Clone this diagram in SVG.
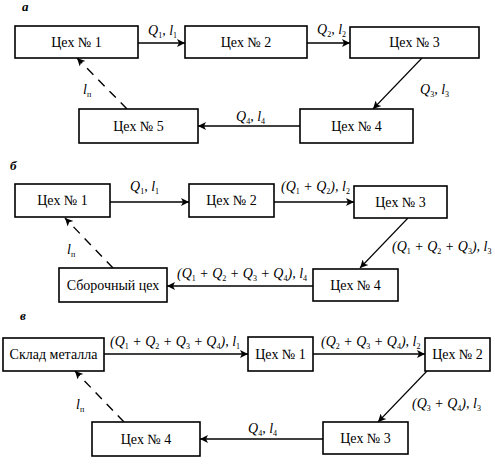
<svg xmlns="http://www.w3.org/2000/svg" width="495" height="465" viewBox="0 0 495 465">
<defs>
<marker id="ah" viewBox="0 0 10 10" refX="10" refY="5" markerWidth="10" markerHeight="8" markerUnits="userSpaceOnUse" orient="auto">
<path d="M0,0 L10,5 L0,10 L2.5,5 Z" fill="#000"/>
</marker>
<style>
.box{fill:#fff;stroke:#000;stroke-width:1.6}
.bt{font-family:'Liberation Serif','DejaVu Serif',serif;font-size:14px;text-anchor:middle;fill:#000}
.lbl{font-family:'Liberation Serif','DejaVu Serif',serif;font-size:14px;font-style:italic;fill:#000}
.s{font-size:8px;font-style:normal}
.pl{font-family:'Liberation Serif','DejaVu Serif',serif;font-size:13px;font-style:italic;font-weight:bold;fill:#000}
.ln{stroke:#000;stroke-width:1.6;fill:none;marker-end:url(#ah)}
.dg{stroke:#000;stroke-width:1.1;fill:none;marker-end:url(#ah)}
.ds{stroke:#000;stroke-width:1.4;fill:none;stroke-dasharray:9,7;marker-end:url(#ah)}
</style>
</defs>
<rect width="495" height="465" fill="#fff"/>

<text class="pl" x="22" y="11">а</text>
<text class="pl" x="10" y="170">б</text>
<text class="pl" x="20" y="320">в</text>

<g id="connectors">
<line class="ln" x1="138" y1="43" x2="185" y2="43"/>
<line class="ln" x1="307" y1="43" x2="350" y2="43"/>
<line class="dg" x1="422" y1="58" x2="373" y2="109"/>
<line class="ln" x1="300" y1="126" x2="198" y2="126"/>
<line class="ds" x1="127" y1="109" x2="77" y2="58"/>
<line class="ln" x1="110" y1="202" x2="189" y2="202"/>
<line class="ln" x1="274" y1="202" x2="354" y2="202"/>
<line class="dg" x1="408" y1="218" x2="360" y2="268"/>
<line class="ln" x1="313" y1="286" x2="167" y2="286"/>
<line class="ds" x1="113" y1="268" x2="65" y2="218"/>
<line class="ln" x1="104" y1="354" x2="248" y2="354"/>
<line class="ln" x1="313" y1="354" x2="425" y2="354"/>
<line class="dg" x1="427" y1="371" x2="378" y2="422"/>
<line class="ln" x1="323" y1="439" x2="200" y2="439"/>
<line class="ds" x1="124" y1="422" x2="75" y2="371"/>

<text class="lbl" x="148" y="35">Q<tspan class="s" dy="3">1</tspan><tspan dy="-3">, l</tspan><tspan class="s" dy="3">1</tspan></text>
<text class="lbl" x="317" y="34">Q<tspan class="s" dy="3">2</tspan><tspan dy="-3">, l</tspan><tspan class="s" dy="3">2</tspan></text>
<text class="lbl" x="420" y="94">Q<tspan class="s" dy="3">3</tspan><tspan dy="-3">, l</tspan><tspan class="s" dy="3">3</tspan></text>
<text class="lbl" x="236" y="121">Q<tspan class="s" dy="3">4</tspan><tspan dy="-3">, l</tspan><tspan class="s" dy="3">4</tspan></text>
<text class="lbl" x="83" y="94">l<tspan class="s" dy="3">п</tspan></text>
<text class="lbl" x="130" y="191">Q<tspan class="s" dy="3">1</tspan><tspan dy="-3">, l</tspan><tspan class="s" dy="3">1</tspan></text>
<text class="lbl" x="281" y="191">(Q<tspan class="s" dy="3">1</tspan><tspan dy="-3"> + Q</tspan><tspan class="s" dy="3">2</tspan><tspan dy="-3">), l</tspan><tspan class="s" dy="3">2</tspan></text>
<text class="lbl" x="392" y="251">(Q<tspan class="s" dy="3">1</tspan><tspan dy="-3"> + Q</tspan><tspan class="s" dy="3">2</tspan><tspan dy="-3"> + Q</tspan><tspan class="s" dy="3">3</tspan><tspan dy="-3">), l</tspan><tspan class="s" dy="3">3</tspan></text>
<text class="lbl" x="177" y="278">(Q<tspan class="s" dy="3">1</tspan><tspan dy="-3"> + Q</tspan><tspan class="s" dy="3">2</tspan><tspan dy="-3"> + Q</tspan><tspan class="s" dy="3">3</tspan><tspan dy="-3"> + Q</tspan><tspan class="s" dy="3">4</tspan><tspan dy="-3">), l</tspan><tspan class="s" dy="3">4</tspan></text>
<text class="lbl" x="67" y="254">l<tspan class="s" dy="3">п</tspan></text>
<text class="lbl" x="110" y="346">(Q<tspan class="s" dy="3">1</tspan><tspan dy="-3"> + Q</tspan><tspan class="s" dy="3">2</tspan><tspan dy="-3"> + Q</tspan><tspan class="s" dy="3">3</tspan><tspan dy="-3"> + Q</tspan><tspan class="s" dy="3">4</tspan><tspan dy="-3">), l</tspan><tspan class="s" dy="3">1</tspan></text>
<text class="lbl" x="321" y="346">(Q<tspan class="s" dy="3">2</tspan><tspan dy="-3"> + Q</tspan><tspan class="s" dy="3">3</tspan><tspan dy="-3"> + Q</tspan><tspan class="s" dy="3">4</tspan><tspan dy="-3">), l</tspan><tspan class="s" dy="3">2</tspan></text>
<text class="lbl" x="412" y="408">(Q<tspan class="s" dy="3">3</tspan><tspan dy="-3"> + Q</tspan><tspan class="s" dy="3">4</tspan><tspan dy="-3">), l</tspan><tspan class="s" dy="3">3</tspan></text>
<text class="lbl" x="248" y="433">Q<tspan class="s" dy="3">4</tspan><tspan dy="-3">, l</tspan><tspan class="s" dy="3">4</tspan></text>
<text class="lbl" x="76" y="409">l<tspan class="s" dy="3">п</tspan></text>
</g>

<g id="a-ceh1"><rect class="box" x="15" y="26" width="123" height="32"/><text class="bt" x="76.5" y="47">Цех № 1</text></g>
<g id="a-ceh2"><rect class="box" x="185" y="26" width="122" height="32"/><text class="bt" x="246" y="47">Цех № 2</text></g>
<g id="a-ceh3"><rect class="box" x="350" y="27" width="129" height="31"/><text class="bt" x="414.5" y="47">Цех № 3</text></g>
<g id="a-ceh4"><rect class="box" x="300" y="109" width="113" height="34"/><text class="bt" x="356.5" y="131">Цех № 4</text></g>
<g id="a-ceh5"><rect class="box" x="79" y="109" width="119" height="34"/><text class="bt" x="138.5" y="131">Цех № 5</text></g>

<g id="b-ceh1"><rect class="box" x="15" y="184" width="95" height="33"/><text class="bt" x="62.5" y="205">Цех № 1</text></g>
<g id="b-ceh2"><rect class="box" x="189" y="184" width="85" height="33"/><text class="bt" x="231.5" y="205">Цех № 2</text></g>
<g id="b-ceh3"><rect class="box" x="354" y="186" width="93" height="32"/><text class="bt" x="400.5" y="207">Цех № 3</text></g>
<g id="b-ceh4"><rect class="box" x="313" y="269" width="85" height="32"/><text class="bt" x="355.5" y="290">Цех № 4</text></g>
<g id="b-sbor"><rect class="box" x="59" y="268" width="108" height="34"/><text class="bt" x="113" y="290">Сборочный цех</text></g>

<g id="v-sklad"><rect class="box" x="3" y="338" width="101" height="33"/><text class="bt" x="53.5" y="359">Склад металла</text></g>
<g id="v-ceh1"><rect class="box" x="248" y="337" width="65" height="34"/><text class="bt" x="280.5" y="359">Цех № 1</text></g>
<g id="v-ceh2"><rect class="box" x="425" y="338" width="65" height="33"/><text class="bt" x="457.5" y="359">Цех № 2</text></g>
<g id="v-ceh3"><rect class="box" x="323" y="422" width="85" height="32"/><text class="bt" x="365.5" y="443">Цех № 3</text></g>
<g id="v-ceh4"><rect class="box" x="92" y="422" width="108" height="34"/><text class="bt" x="146" y="444">Цех № 4</text></g>
</svg>
